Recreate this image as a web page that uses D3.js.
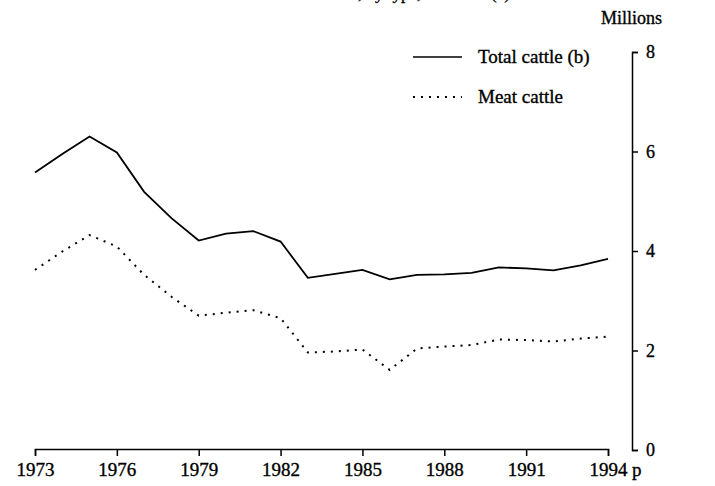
<!DOCTYPE html>
<html>
<head>
<meta charset="utf-8">
<script src="https://cdn.jsdelivr.net/npm/d3@7"></script>
<style>
	body { margin: 0; background: #fff; }
	svg text { font-family: "Liberation Serif", "DejaVu Serif", serif; fill: #000; stroke: #000; stroke-width: 0.35; }
</style>
</head>
<body>
<svg id="chart" width="715" height="486"></svg>
<script>
// years shown on the x axis
const years = d3.range(1973, 1995);
const yearTicks = [1973, 1976, 1979, 1982, 1985, 1988, 1991, 1994];
const valueTicks = [0, 2, 4, 6, 8];

// millions
const totalCattle = [5.58, 5.95, 6.3, 5.98, 5.19, 4.66, 4.21, 4.35, 4.4, 4.19, 3.46,
	3.54, 3.62, 3.43, 3.52, 3.53, 3.56, 3.67, 3.65, 3.61, 3.71, 3.84];
const meatCattle = [3.62, 3.99, 4.32, 4.09, 3.52, 3.08, 2.7, 2.76, 2.81, 2.65, 1.96,
	1.98, 2.02, 1.61, 2.04, 2.08, 2.11, 2.22, 2.21, 2.18, 2.24, 2.28];

const seriesNames = ["Total cattle (b)", "Meat cattle"];

const svg = d3.select("#chart");

const x = d3.scaleLinear().domain([1973, 1994]).range([35, 608]);
const y = d3.scaleLinear().domain([0, 8]).range([450, 52]);

// title, mostly cut off at the top of the page
svg.append("text")
	.attr("x", 510)
	.attr("y", -1)
	.attr("text-anchor", "end")
	.attr("font-size", 17)
	.text("Cattle numbers, by type, Australia (a)");

// x axis
const xAxis = svg.append("g")
	.attr("transform", "translate(0,449)")
	.call(d3.axisBottom(x).tickValues(yearTicks).tickFormat(d3.format("d")).tickSize(7).tickPadding(7));
xAxis.selectAll("text").attr("font-size", 19);
xAxis.selectAll("path, line").attr("stroke", "#000").attr("stroke-width", 1.5);
svg.append("text")
	.attr("x", x(1994) + 24)
	.attr("y", 476)
	.attr("font-size", 19)
	.text("p");

// y axis on the right
const yAxis = svg.append("g")
	.attr("transform", "translate(632,0)")
	.call(d3.axisRight(y).tickValues(valueTicks).tickSize(6).tickPadding(8));
yAxis.selectAll("text").attr("font-size", 18);
yAxis.selectAll("path, line").attr("stroke", "#000").attr("stroke-width", 1.5);
svg.append("text")
	.attr("x", 601)
	.attr("y", 24)
	.attr("font-size", 18)
	.text("Millions");

const line = d3.line()
	.x((d, i) => x(years[i]))
	.y(d => y(d));

svg.append("path")
	.datum(totalCattle)
	.attr("fill", "none")
	.attr("stroke", "#000")
	.attr("stroke-width", 1.8)
	.attr("d", line);

svg.append("path")
	.datum(meatCattle)
	.attr("fill", "none")
	.attr("stroke", "#000")
	.attr("stroke-width", 2)
	.attr("stroke-dasharray", "2,6")
	.attr("d", line);

// legend
const legend = svg.append("g");
const legendRows = [
	{ name: seriesNames[0], dash: null, y: 57 },
	{ name: seriesNames[1], dash: "2,6", y: 97 }
];
legendRows.forEach((r) => {
	legend.append("line")
		.attr("x1", 413).attr("x2", 462)
		.attr("y1", r.y).attr("y2", r.y)
		.attr("stroke", "#000")
		.attr("stroke-width", r.dash ? 2 : 1.5)
		.attr("stroke-dasharray", r.dash);
	legend.append("text")
		.attr("x", 478)
		.attr("y", r.y + 6)
		.attr("font-size", 19)
		.text(r.name);
});
</script>
</body>
</html>
